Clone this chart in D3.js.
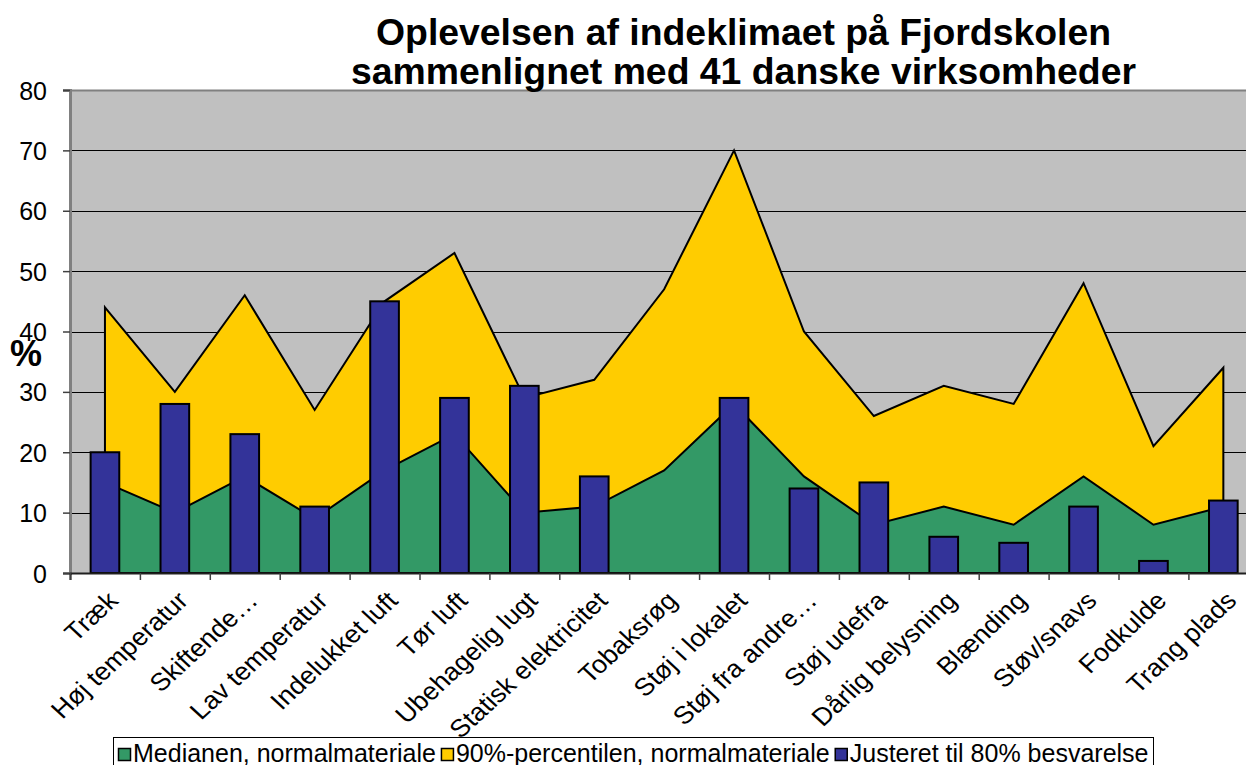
<!DOCTYPE html>
<html>
<head>
<meta charset="utf-8">
<script src="https://cdn.jsdelivr.net/npm/d3@7"></script>
<style>
  html, body { margin: 0; padding: 0; background: #ffffff; }
  svg { display: block; }
  text { font-family: "Liberation Sans", Arial, sans-serif; fill: #000; }
</style>
</head>
<body>
<svg id="chart" width="1246" height="765"></svg>
<script>
const categories = ["Træk","Høj temperatur","Skiftende…","Lav temperatur","Indelukket luft","Tør luft","Ubehagelig lugt","Statisk elektricitet","Tobaksrøg","Støj i lokalet","Støj fra andre…","Støj udefra","Dårlig belysning","Blænding","Støv/snavs","Fodkulde","Trang plads"];
const medianValues = [15,10,16,9,17,23,10,11,17,28,16,8,11,8,16,8,11];
const p90Values = [44,30,46,27,45,53,29,32,47,70,40,26,31,28,48,21,34];
const adjustedValues = [20,28,23,11,45,29,31,16,null,29,14,15,6,5,11,2,12];
const yTicks = [0,10,20,30,40,50,60,70,80];
const titleLines = ["Oplevelsen af indeklimaet på Fjordskolen","sammenlignet med 41 danske virksomheder"];
const seriesNames = ["Medianen, normalmateriale","90%-percentilen, normalmateriale","Justeret til 80% besvarelse"];
const seriesColors = ["#339966","#FFCC00","#333399"];
const yAxisLabel = "%";

(function () {
const svg = d3.select("#chart");
const plotLeft = 70, step = 69.9, plotRight = plotLeft + categories.length * step;
const plotTop = 90, plotBottom = 573;

const x = d3.scaleBand().domain(categories).range([plotLeft, plotRight]).padding(0);
const xc = c => x(c) + x.bandwidth() / 2;
const xb = d3.scaleBand().domain(categories).range([plotLeft, plotRight]).paddingInner(0.59).paddingOuter(0.295);
const y = d3.scaleLinear().domain([0, 80]).range([plotBottom, plotTop]);

// plot background
svg.append("rect").attr("x", plotLeft).attr("y", plotTop).attr("width", plotRight - plotLeft).attr("height", plotBottom - plotTop)
  .attr("fill", "#C0C0C0");
svg.append("line").attr("x1", plotLeft).attr("x2", plotRight).attr("y1", plotTop + 0.5).attr("y2", plotTop + 0.5)
  .attr("stroke", "#808080").attr("stroke-width", 2);

// gridlines
svg.append("g").selectAll("line").data(yTicks.filter(t => t > 0 && t < 80)).join("line")
  .attr("x1", plotLeft).attr("x2", plotRight)
  .attr("y1", d => Math.round(y(d)) + 0.5).attr("y2", d => Math.round(y(d)) + 0.5)
  .attr("stroke", "#000").attr("stroke-width", 1);

// areas
const area = d3.area()
  .x((d, i) => xc(categories[i]))
  .y0(y(0))
  .y1(d => y(d));
svg.append("path").datum(p90Values).attr("d", area)
  .attr("fill", seriesColors[1]).attr("stroke", "#000").attr("stroke-width", 2).attr("stroke-linejoin", "miter");
svg.append("path").datum(medianValues).attr("d", area)
  .attr("fill", seriesColors[0]).attr("stroke", "#000").attr("stroke-width", 2).attr("stroke-linejoin", "miter");

// bars
const barData = categories.map((c, i) => ({ c, v: adjustedValues[i] })).filter(d => d.v != null);
svg.append("g").selectAll("rect").data(barData).join("rect")
  .attr("x", d => xb(d.c)).attr("width", xb.bandwidth())
  .attr("y", d => y(d.v)).attr("height", d => y(0) - y(d.v))
  .attr("fill", seriesColors[2]).attr("stroke", "#000").attr("stroke-width", 2);

// y axis
const yAxisG = svg.append("g").attr("transform", `translate(${plotLeft},0)`)
  .call(d3.axisLeft(y).tickValues(yTicks).tickSize(7).tickPadding(16));
yAxisG.select(".domain").attr("stroke", "#808080").attr("stroke-width", 3);
yAxisG.selectAll(".tick line").attr("stroke", "#404040").attr("stroke-width", 1.5);
yAxisG.selectAll(".tick text")
  .attr("x", -23).attr("dy", "0.36em")
  .style("font-size", "25px").attr("text-anchor", "end");

// x axis (ticks between categories)
const xTickScale = d3.scaleLinear().domain([0, categories.length]).range([plotLeft, plotRight]);
const xAxisG = svg.append("g").attr("transform", `translate(0,${plotBottom})`)
  .call(d3.axisBottom(xTickScale).tickValues(d3.range(categories.length + 1)).tickSize(7).tickFormat(""));
xAxisG.select(".domain").attr("stroke", "#202020").attr("stroke-width", 2);
xAxisG.selectAll(".tick line").attr("stroke", "#404040").attr("stroke-width", 1.5);

// x labels
svg.append("g").selectAll("text").data(categories).join("text")
  .attr("transform", d => `translate(${xc(d) + 8},${596}) scale(1.08,1) rotate(-45)`)
  .attr("text-anchor", "end").attr("dy", "0.35em")
  .style("font-size", "25px")
  .text(d => d);

// y axis title
svg.append("text").attr("x", 26).attr("y", 366)
  .attr("text-anchor", "middle").style("font-size", "36px").style("font-weight", "bold")
  .text(yAxisLabel);

// title
const titleWidths = [735, 785];
svg.append("g").selectAll("text").data(titleLines).join("text")
  .attr("x", 743.5).attr("y", (d, i) => 45 + i * 39)
  .attr("text-anchor", "middle")
  .attr("textLength", (d, i) => titleWidths[i]).attr("lengthAdjust", "spacingAndGlyphs")
  .style("font-size", "36px").style("font-weight", "bold")
  .text(d => d);

// legend (white box drawn over the lower part of the category labels)
const legend = svg.append("g");
const legendBox = legend.append("rect").attr("x", 113.5).attr("y", 737.5).attr("height", 40)
  .attr("fill", "#fff").attr("stroke", "#000").attr("stroke-width", 1);
let lx = 118;
[0, 1, 2].forEach(k => {
  legend.append("rect").attr("x", lx + 0.5).attr("y", 748.5).attr("width", 12).attr("height", 12)
    .attr("fill", seriesColors[k]).attr("stroke", "#000").attr("stroke-width", 1.5);
  lx += 15;
  const t = legend.append("text").attr("x", lx).attr("y", 762)
    .style("font-size", "25px").text(seriesNames[k]);
  lx += t.node().getComputedTextLength() + 5;
});
legendBox.attr("width", lx - 113.5);
})();
</script>
</body>
</html>
